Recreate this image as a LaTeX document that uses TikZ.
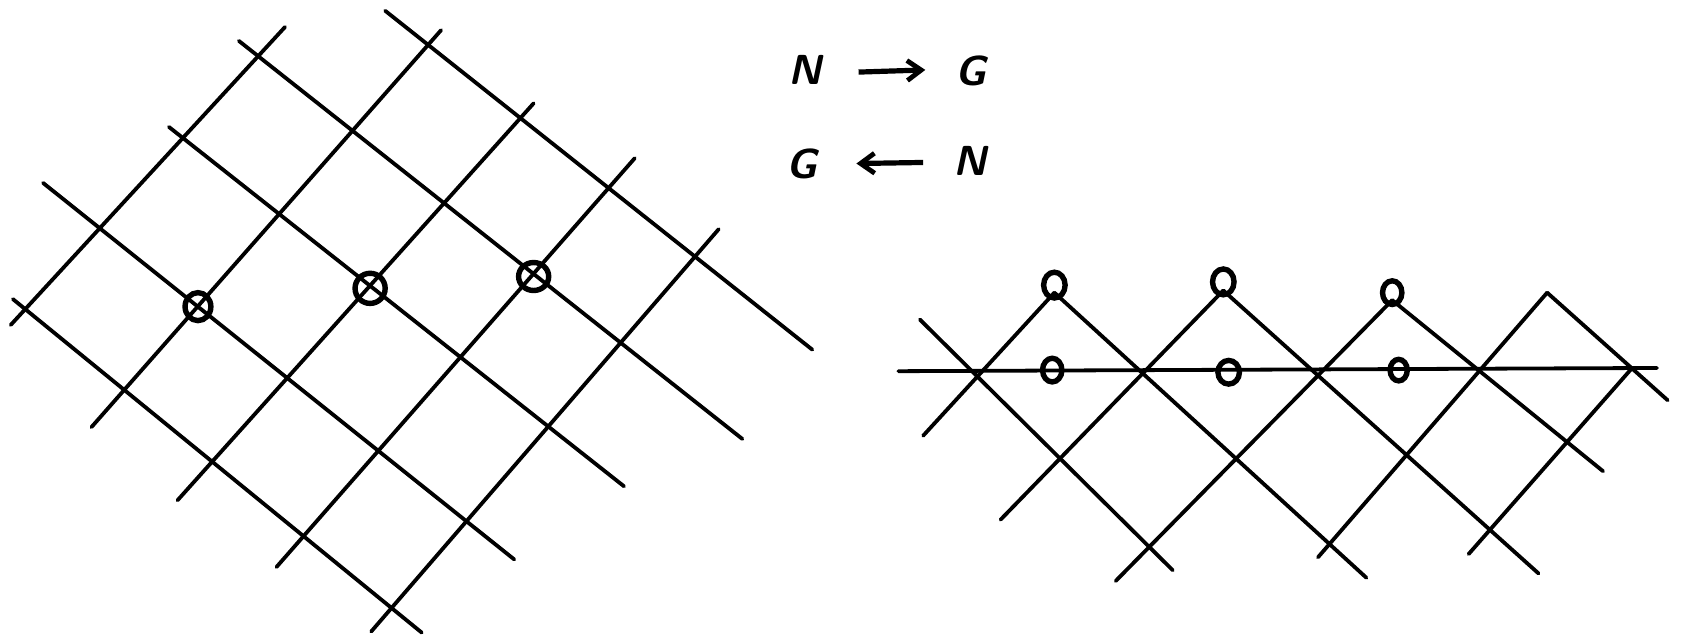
\documentclass[tikz,border=0pt]{standalone}
\usepackage{fontspec}
\usetikzlibrary{arrows.meta}
\begin{document}
\begin{tikzpicture}[x=0.5379pt,y=-0.5379pt,
  gridline/.style={line width=1.9pt, line cap=round},
  ring/.style={line width=2.7pt},
  lbl/.style={font=\fontsize{21}{24}\selectfont\sffamily\bfseries\itshape, inner sep=0pt},
  arr/.style={line width=2.6pt, -{Straight Barb[length=7pt,width=10pt,line width=2.4pt]}}]
\useasboundingbox (0,0) rectangle (1568,592);
% ---- left lattice: lines rising to the right
\draw[gridline] (10,302) -- (265,25);
\draw[gridline] (85,397) -- (410,28);
\draw[gridline] (165,465) -- (496,96);
\draw[gridline] (257,527) -- (590,147);
\draw[gridline] (345,587) -- (668,213);
% ---- left lattice: lines falling to the right
\draw[gridline] (358,10) -- (755,325);
\draw[gridline] (222,38) -- (690,408);
\draw[gridline] (157,118) -- (580,452);
\draw[gridline] (40,170) -- (478,520);
\draw[gridline] (12,278) -- (392,588);
% ---- left circles
\draw[ring] (184,285) circle[x radius=12, y radius=13];
\draw[ring] (344,268) circle[x radius=14, y radius=14];
\draw[ring] (496,257) circle[x radius=14, y radius=13];
% ---- labels
\node[lbl] (n1) at (748,65) {N};
\node[lbl] (g1) at (902,66) {G};
\node[lbl] (g2) at (745,152) {G};
\node[lbl] (n2) at (902,150) {N};
\coordinate (a1s) at (798,67);
\coordinate (a1e) at (860,65);
\coordinate (a2s) at (858,151);
\coordinate (a2e) at (796,152);
\draw[arr] (a1s) -- (a1e);
\draw[arr] (a2s) -- (a2e);
% ---- right lattice
\draw[gridline] (835,345) -- (1540,342);
% falling lines
\draw[gridline] (855,297) -- (1090,530);
\draw[gridline] (980,272) -- (1270,537);
\draw[gridline] (1137,270) -- (1430,533);
\draw[gridline] (1294,279) -- (1490,438);
\draw[gridline] (1438,272) -- (1550,372);
% rising lines
\draw[gridline] (858,405) -- (980,272);
\draw[gridline] (930,483) -- (1137,270);
\draw[gridline] (1037,540) -- (1294,279);
\draw[gridline] (1225,518) -- (1438,272);
\draw[gridline] (1365,515) -- (1517,342);
% right circles
\draw[ring] (980,265) circle[x radius=10, y radius=12];
\draw[ring] (1137,262) circle[x radius=10, y radius=12];
\draw[ring] (1294,272) circle[x radius=9, y radius=11];
\draw[ring] (978,344) circle[x radius=9, y radius=11];
\draw[ring] (1142,346) circle[x radius=10, y radius=11];
\draw[ring] (1300,344) circle[x radius=8, y radius=10];
\end{tikzpicture}
\end{document}
